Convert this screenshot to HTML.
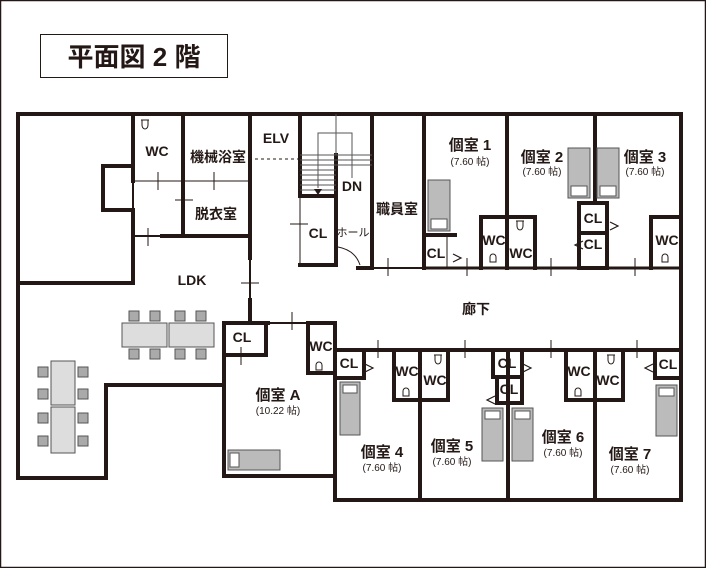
<!DOCTYPE html>
<html><head><meta charset="utf-8"><style>
html,body{margin:0;padding:0;background:#fff}
svg{display:block}
text{font-family:"Liberation Sans","Noto Sans CJK JP",sans-serif;fill:#231815;font-weight:bold;text-anchor:middle}
.s{font-size:10px;font-weight:normal}
</style></head><body>
<svg width="706" height="568" viewBox="0 0 706 568" xmlns="http://www.w3.org/2000/svg">
<rect x="0.5" y="0.5" width="705" height="567" fill="#fff" stroke="#231815" stroke-width="1.5"/>
<rect x="40.5" y="34.5" width="187" height="43" fill="#fff" stroke="#231815" stroke-width="1"/>
<text x="134" y="66" style="font-size:26px">平面図 2 階</text>

<g fill="none" stroke="#231815" stroke-width="4" stroke-linecap="square">
<polyline points="18,478 18,114 681,114 681,500 335,500 335,476 224,476 224,385 106,385 106,478 18,478"/>
<polyline points="18,283 133,283 133,210 103,210 103,166 133,166 133,114"/>
<line x1="133" y1="166" x2="133" y2="181"/>
<line x1="224" y1="323" x2="224" y2="476"/>
<line x1="335" y1="323" x2="335" y2="500"/>
<line x1="183" y1="114" x2="183" y2="236"/>
<line x1="162" y1="236" x2="250" y2="236"/>
<line x1="250" y1="114" x2="250" y2="258"/>
<line x1="250" y1="300" x2="250" y2="323"/>
<polyline points="300,114 300,196 336,196"/>
<line x1="336" y1="155" x2="336" y2="265"/>
<line x1="300" y1="265" x2="336" y2="265"/>
<line x1="372" y1="114" x2="372" y2="268"/>
<line x1="424" y1="114" x2="424" y2="268"/>
<line x1="507" y1="114" x2="507" y2="268"/>
<line x1="595" y1="114" x2="595" y2="203"/>
<line x1="358" y1="268" x2="372" y2="268"/>
<line x1="335" y1="350" x2="681" y2="350"/>
<line x1="420" y1="350" x2="420" y2="500"/>
<line x1="508" y1="350" x2="508" y2="500"/>
<line x1="595" y1="350" x2="595" y2="500"/>
<polyline points="424,235 455,235"/>
<polyline points="481,268 481,217 507,217"/>
<polyline points="507,217 535,217 535,268"/>
<rect x="579" y="203" width="28" height="65"/>
<line x1="579" y1="233" x2="607" y2="233"/>
<polyline points="651,268 651,217 681,217"/>
<line x1="424" y1="268" x2="681" y2="268" stroke-width="3"/>
<polyline points="335,378 364,378 364,350"/>
<polyline points="394,350 394,400 420,400"/>
<polyline points="420,400 448,400 448,350"/>
<polyline points="493,350 493,377 522,377 522,350"/>
<polyline points="497,377 497,403 522,403 522,377"/>
<polyline points="566,350 566,400 595,400"/>
<polyline points="595,400 623,400 623,350"/>
<polyline points="655,350 655,378 681,378"/>
<polyline points="224,323 268,323"/>
<polyline points="224,355 266,355 266,323"/>
<rect x="308" y="323" width="27" height="50"/>
</g>
<g stroke="#231815" stroke-width="1" fill="none">
<line x1="133" y1="181" x2="250" y2="181"/>
<line x1="133" y1="181" x2="133" y2="210" stroke-width="2"/>
<line x1="133" y1="236" x2="162" y2="236" stroke-width="2"/>
<line x1="268" y1="323" x2="308" y2="323" stroke-width="2"/>
<line x1="372" y1="268" x2="424" y2="268" stroke-width="2"/>
<line x1="300" y1="196" x2="300" y2="265"/>
<line x1="447" y1="235" x2="447" y2="268"/>
<line x1="250" y1="258" x2="250" y2="300" stroke-width="2"/>
<line x1="255" y1="159" x2="300" y2="159" stroke-dasharray="3,3"/>
<g stroke="#555">
<line x1="300" y1="155" x2="372" y2="155"/><line x1="300" y1="160" x2="372" y2="160"/>
<line x1="300" y1="165" x2="372" y2="165"/><line x1="300" y1="170" x2="336" y2="170"/>
<line x1="300" y1="175" x2="336" y2="175"/><line x1="300" y1="180" x2="336" y2="180"/>
<line x1="300" y1="185" x2="336" y2="185"/><line x1="300" y1="190" x2="336" y2="190"/>
<polyline points="318,188 318,133 352,133 352,178"/>
<line x1="336" y1="114" x2="336" y2="155"/>
</g>
<path d="M338,247 Q355,250 360,265" />
<path d="M158,172v18 M175,200h18 M214,172v18 M148,228v18 M241,283h18 M292,312v18 M241,347v18 M290,224h18 M388,258v18 M467,258v18 M551,258v18 M635,258v18 M378,340v18 M465,340v18 M551,340v18 M637,340v18"/>
</g>
<polygon points="314,189 322,189 318,195" fill="#231815"/>
<g fill="none" stroke="#231815" stroke-width="1.2">
<path d="M453,254 l8,4 l-8,4"/><path d="M610,222 l8,4 l-8,4"/><path d="M583,241 l-8,4 l8,4"/>
<path d="M365,364 l8,4 l-8,4"/><path d="M523,364 l8,4 l-8,4"/><path d="M495,396 l-8,4 l8,4"/><path d="M653,364 l-8,4 l8,4"/>
</g>
<g fill="#bbb" stroke="#555" stroke-width="1">
<rect x="428" y="180" width="22" height="51"/><rect x="568" y="148" width="22" height="50"/><rect x="597" y="148" width="22" height="50"/>
<rect x="340" y="382" width="20" height="53"/><rect x="482" y="408" width="21" height="53"/><rect x="512" y="408" width="21" height="53"/><rect x="656" y="385" width="21" height="51"/>
<rect x="228" y="450" width="52" height="20"/>
</g>
<g fill="#fff" stroke="#555" stroke-width="1">
<rect x="431" y="219" width="16" height="10"/><rect x="571" y="186" width="16" height="10"/><rect x="600" y="186" width="16" height="10"/>
<rect x="343" y="385" width="14" height="8"/><rect x="485" y="411" width="15" height="8"/><rect x="515" y="411" width="15" height="8"/><rect x="659" y="388" width="15" height="8"/>
<rect x="230" y="453" width="9" height="14"/>
</g>
<g fill="#ddd" stroke="#555" stroke-width="1">
<rect x="122" y="323" width="45" height="24"/><rect x="169" y="323" width="45" height="24"/>
<rect x="51" y="361" width="24" height="44"/><rect x="51" y="407" width="24" height="46"/>
</g>
<g fill="#aaa" stroke="#555" stroke-width="1">
<rect x="129" y="311" width="10" height="10"/><rect x="150" y="311" width="10" height="10"/><rect x="175" y="311" width="10" height="10"/><rect x="196" y="311" width="10" height="10"/>
<rect x="129" y="349" width="10" height="10"/><rect x="150" y="349" width="10" height="10"/><rect x="175" y="349" width="10" height="10"/><rect x="196" y="349" width="10" height="10"/>
<rect x="38" y="367" width="10" height="10"/><rect x="38" y="389" width="10" height="10"/><rect x="38" y="413" width="10" height="10"/><rect x="38" y="436" width="10" height="10"/>
<rect x="78" y="367" width="10" height="10"/><rect x="78" y="389" width="10" height="10"/><rect x="78" y="413" width="10" height="10"/><rect x="78" y="436" width="10" height="10"/>
</g>
<g fill="none" stroke="#231815" stroke-width="1">
<path d="M141,120h8 M142,120v5a3,4 0 0 0 6,0v-5"/><path d="M516,221h8 M517,221v5a3,4 0 0 0 6,0v-5"/>
<path d="M434,355h8 M435,355v5a3,4 0 0 0 6,0v-5"/><path d="M607,355h8 M608,355v5a3,4 0 0 0 6,0v-5"/>
<path d="M490,262v-5a3,3 0 0 1 6,0v5z"/><path d="M662,262v-5a3,3 0 0 1 6,0v5z"/><path d="M316,370v-5a3,3 0 0 1 6,0v5z"/>
<path d="M403,396v-5a3,3 0 0 1 6,0v5z"/><path d="M575,396v-5a3,3 0 0 1 6,0v5z"/>
</g>
<g style="font-size:14px">
<text x="157" y="156">WC</text><text x="218" y="162">機械浴室</text><text x="276" y="143">ELV</text>
<text x="352" y="191">DN</text><text x="318" y="238">CL</text><text x="397" y="214">職員室</text>
<text x="216" y="219">脱衣室</text><text x="192" y="285">LDK</text><text x="476" y="314">廊下</text>
<text x="436" y="258">CL</text><text x="494" y="245">WC</text><text x="521" y="258">WC</text>
<text x="593" y="223">CL</text><text x="593" y="249">CL</text><text x="667" y="245">WC</text>
<text x="242" y="342">CL</text><text x="321" y="351">WC</text>
<text x="349" y="368">CL</text><text x="407" y="376">WC</text><text x="435" y="385">WC</text>
<text x="507" y="368">CL</text><text x="509" y="394">CL</text><text x="579" y="376">WC</text><text x="608" y="385">WC</text><text x="668" y="369">CL</text>
</g>
<g style="font-size:15px">
<text x="470" y="150">個室 1</text><text x="542" y="162">個室 2</text><text x="645" y="162">個室 3</text>
<text x="278" y="400">個室 A</text><text x="382" y="457">個室 4</text><text x="452" y="451">個室 5</text><text x="563" y="442">個室 6</text><text x="630" y="459">個室 7</text>
</g>
<text x="353" y="236" style="font-size:11px;font-weight:normal">ホール</text>
<g>
<text class="s" x="470" y="165">(7.60 帖)</text><text class="s" x="542" y="175">(7.60 帖)</text><text class="s" x="645" y="175">(7.60 帖)</text>
<text class="s" x="278" y="414">(10.22 帖)</text><text class="s" x="382" y="471">(7.60 帖)</text><text class="s" x="452" y="465">(7.60 帖)</text><text class="s" x="563" y="456">(7.60 帖)</text><text class="s" x="630" y="473">(7.60 帖)</text>
</g>
</svg>
</body></html>
